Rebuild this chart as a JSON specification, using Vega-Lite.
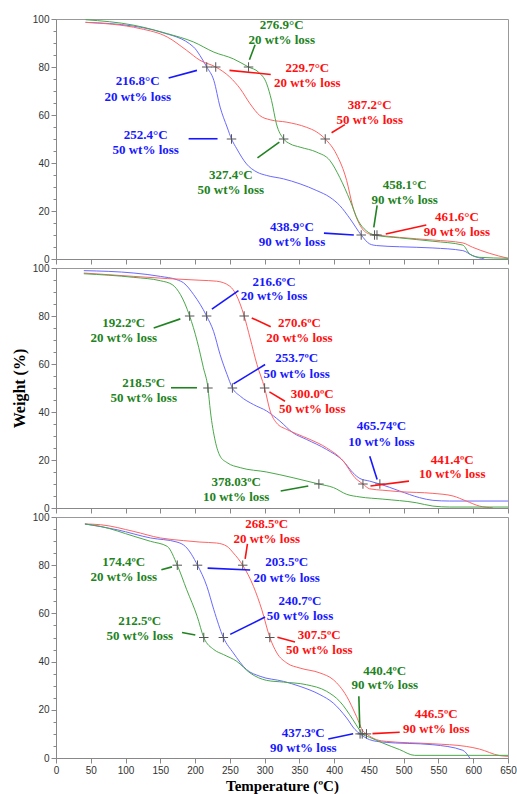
{
  "$schema": "https://vega.github.io/schema/vega-lite/v6.json",
  "padding": {"left": 10, "top": 13, "right": 2, "bottom": 1},
  "bounds": "flush",
  "spacing": 9,
  "background": "white",
  "config": {
    "view": {"stroke": "#999999", "strokeWidth": 1},
    "axis": {
      "grid": false,
      "domainColor": "#888888",
      "tickColor": "#888888",
      "labelFont": "Liberation Sans",
      "labelFontSize": 10,
      "labelColor": "#333333",
      "labelFlush": false,
      "labelOverlap": false,
      "titleFont": "Liberation Serif",
      "titleFontWeight": "bold",
      "titleFontSize": 15,
      "titleColor": "#000000"
    }
  },
  "datasets": {
    "curves": [
      {"p":1,"s":"blue","t":42.5,"w":98.6},{"p":1,"s":"blue","t":112,"w":97},{"p":1,"s":"blue","t":150,"w":94.6},{"p":1,"s":"blue","t":198,"w":88.3},{"p":1,"s":"blue","t":207,"w":84.8},{"p":1,"s":"blue","t":216.8,"w":80},{"p":1,"s":"blue","t":227,"w":74.4},{"p":1,"s":"blue","t":236,"w":63.3},{"p":1,"s":"blue","t":246,"w":55},{"p":1,"s":"blue","t":252.4,"w":50},{"p":1,"s":"blue","t":260,"w":45.9},{"p":1,"s":"blue","t":274,"w":39.6},{"p":1,"s":"blue","t":289,"w":36.2},{"p":1,"s":"blue","t":303,"w":34.8},{"p":1,"s":"blue","t":327,"w":33.4},{"p":1,"s":"blue","t":351,"w":31.3},{"p":1,"s":"blue","t":375,"w":28.5},{"p":1,"s":"blue","t":394,"w":25.7},{"p":1,"s":"blue","t":408,"w":22.3},{"p":1,"s":"blue","t":423,"w":16.7},{"p":1,"s":"blue","t":438.9,"w":10},{"p":1,"s":"blue","t":451,"w":6.3},{"p":1,"s":"blue","t":461,"w":5.6},{"p":1,"s":"blue","t":494,"w":5.1},{"p":1,"s":"blue","t":542,"w":4.6},{"p":1,"s":"blue","t":585,"w":3.5},{"p":1,"s":"blue","t":599,"w":1.4},{"p":1,"s":"blue","t":616,"w":0},
      {"p":1,"s":"red","t":42.5,"w":98.6},{"p":1,"s":"red","t":121,"w":96},{"p":1,"s":"red","t":160,"w":92.5},{"p":1,"s":"red","t":188,"w":86.9},{"p":1,"s":"red","t":207,"w":82.8},{"p":1,"s":"red","t":229.7,"w":80},{"p":1,"s":"red","t":250,"w":75.8},{"p":1,"s":"red","t":265,"w":70.9},{"p":1,"s":"red","t":279,"w":64.7},{"p":1,"s":"red","t":293,"w":59.8},{"p":1,"s":"red","t":308,"w":58},{"p":1,"s":"red","t":332,"w":57},{"p":1,"s":"red","t":360,"w":54.9},{"p":1,"s":"red","t":375,"w":52.9},{"p":1,"s":"red","t":387.2,"w":50},{"p":1,"s":"red","t":403,"w":43.8},{"p":1,"s":"red","t":418,"w":32.7},{"p":1,"s":"red","t":427,"w":21.6},{"p":1,"s":"red","t":439,"w":13.2},{"p":1,"s":"red","t":451,"w":10.4},{"p":1,"s":"red","t":461.6,"w":10},{"p":1,"s":"red","t":494,"w":9},{"p":1,"s":"red","t":542,"w":7.9},{"p":1,"s":"red","t":585,"w":6.7},{"p":1,"s":"red","t":599,"w":4.9},{"p":1,"s":"red","t":623,"w":2.4},{"p":1,"s":"red","t":650,"w":0.3},
      {"p":1,"s":"green","t":42.5,"w":99.7},{"p":1,"s":"green","t":112,"w":97.4},{"p":1,"s":"green","t":160,"w":93.9},{"p":1,"s":"green","t":198,"w":90.4},{"p":1,"s":"green","t":227,"w":86.2},{"p":1,"s":"green","t":255,"w":83.4},{"p":1,"s":"green","t":276.9,"w":80},{"p":1,"s":"green","t":291,"w":77.9},{"p":1,"s":"green","t":303,"w":73},{"p":1,"s":"green","t":310,"w":66},{"p":1,"s":"green","t":317,"w":56.3},{"p":1,"s":"green","t":327.4,"w":50},{"p":1,"s":"green","t":336.5,"w":48},{"p":1,"s":"green","t":351,"w":46.6},{"p":1,"s":"green","t":375,"w":44.5},{"p":1,"s":"green","t":394,"w":41},{"p":1,"s":"green","t":408,"w":34},{"p":1,"s":"green","t":423,"w":24.3},{"p":1,"s":"green","t":434.5,"w":16},{"p":1,"s":"green","t":446,"w":11.8},{"p":1,"s":"green","t":458.1,"w":10},{"p":1,"s":"green","t":494,"w":8.8},{"p":1,"s":"green","t":542,"w":7.4},{"p":1,"s":"green","t":585,"w":5.8},{"p":1,"s":"green","t":595,"w":2.1},{"p":1,"s":"green","t":609,"w":0.7},{"p":1,"s":"green","t":650,"w":0.3},

      {"p":2,"s":"blue","t":40,"w":98.9},{"p":2,"s":"blue","t":112,"w":97.9},{"p":2,"s":"blue","t":150,"w":96.5},{"p":2,"s":"blue","t":174,"w":95.1},{"p":2,"s":"blue","t":183.5,"w":93.8},{"p":2,"s":"blue","t":198,"w":88.9},{"p":2,"s":"blue","t":216.6,"w":80},{"p":2,"s":"blue","t":226.6,"w":73.6},{"p":2,"s":"blue","t":236,"w":63.9},{"p":2,"s":"blue","t":246,"w":55.6},{"p":2,"s":"blue","t":253.7,"w":50},{"p":2,"s":"blue","t":265,"w":46.6},{"p":2,"s":"blue","t":284,"w":43.1},{"p":2,"s":"blue","t":303,"w":40.4},{"p":2,"s":"blue","t":322,"w":36.2},{"p":2,"s":"blue","t":341,"w":31.3},{"p":2,"s":"blue","t":360,"w":28.6},{"p":2,"s":"blue","t":389,"w":24.4},{"p":2,"s":"blue","t":413,"w":19.6},{"p":2,"s":"blue","t":427,"w":14.7},{"p":2,"s":"blue","t":437,"w":12.3},{"p":2,"s":"blue","t":451,"w":11.2},{"p":2,"s":"blue","t":465.74,"w":10},{"p":2,"s":"blue","t":494,"w":7.1},{"p":2,"s":"blue","t":523,"w":4.3},{"p":2,"s":"blue","t":542,"w":3.2},{"p":2,"s":"blue","t":566,"w":2.9},{"p":2,"s":"blue","t":650,"w":2.9},
      {"p":2,"s":"red","t":40,"w":97.9},{"p":2,"s":"red","t":112,"w":96.5},{"p":2,"s":"red","t":160,"w":95.6},{"p":2,"s":"red","t":207,"w":94.9},{"p":2,"s":"red","t":231,"w":94.5},{"p":2,"s":"red","t":250,"w":92.4},{"p":2,"s":"red","t":259,"w":88.9},{"p":2,"s":"red","t":270.6,"w":80},{"p":2,"s":"red","t":279,"w":70.9},{"p":2,"s":"red","t":289,"w":59.8},{"p":2,"s":"red","t":300,"w":50},{"p":2,"s":"red","t":308,"w":40.4},{"p":2,"s":"red","t":317,"w":35.5},{"p":2,"s":"red","t":332,"w":32.7},{"p":2,"s":"red","t":346,"w":30.9},{"p":2,"s":"red","t":365,"w":28.6},{"p":2,"s":"red","t":389,"w":25.1},{"p":2,"s":"red","t":413,"w":19.6},{"p":2,"s":"red","t":430,"w":12.6},{"p":2,"s":"red","t":441.4,"w":10},{"p":2,"s":"red","t":451,"w":8},{"p":2,"s":"red","t":470,"w":7.4},{"p":2,"s":"red","t":494,"w":6.8},{"p":2,"s":"red","t":542,"w":6.1},{"p":2,"s":"red","t":571,"w":5},{"p":2,"s":"red","t":590,"w":2.9},{"p":2,"s":"red","t":609,"w":0.8},{"p":2,"s":"red","t":628,"w":0.1},
      {"p":2,"s":"green","t":40,"w":97.6},{"p":2,"s":"green","t":112,"w":96.1},{"p":2,"s":"green","t":150,"w":94.7},{"p":2,"s":"green","t":167,"w":93.1},{"p":2,"s":"green","t":179,"w":88.9},{"p":2,"s":"green","t":192.2,"w":80},{"p":2,"s":"green","t":203,"w":69.5},{"p":2,"s":"green","t":212,"w":58.4},{"p":2,"s":"green","t":218.5,"w":50},{"p":2,"s":"green","t":222,"w":40.4},{"p":2,"s":"green","t":229,"w":27.9},{"p":2,"s":"green","t":236,"w":21.6},{"p":2,"s":"green","t":246,"w":18.9},{"p":2,"s":"green","t":265,"w":16.8},{"p":2,"s":"green","t":303,"w":15},{"p":2,"s":"green","t":341,"w":12.6},{"p":2,"s":"green","t":378.03,"w":10},{"p":2,"s":"green","t":399,"w":8.5},{"p":2,"s":"green","t":418,"w":5.7},{"p":2,"s":"green","t":437,"w":4.6},{"p":2,"s":"green","t":470,"w":3.7},{"p":2,"s":"green","t":518,"w":2.2},{"p":2,"s":"green","t":542,"w":0.8},{"p":2,"s":"green","t":566,"w":0.4},{"p":2,"s":"green","t":650,"w":0.4},

      {"p":3,"s":"red","t":41.6,"w":97.1},{"p":3,"s":"red","t":64,"w":96.8},{"p":3,"s":"red","t":112,"w":94},{"p":3,"s":"red","t":150,"w":91.3},{"p":3,"s":"red","t":183.5,"w":90.2},{"p":3,"s":"red","t":207,"w":89.6},{"p":3,"s":"red","t":231,"w":89.2},{"p":3,"s":"red","t":246,"w":87.8},{"p":3,"s":"red","t":255,"w":85.1},{"p":3,"s":"red","t":268.5,"w":80},{"p":3,"s":"red","t":284,"w":71.2},{"p":3,"s":"red","t":296,"w":61.5},{"p":3,"s":"red","t":307.5,"w":50},{"p":3,"s":"red","t":317.6,"w":43.6},{"p":3,"s":"red","t":332,"w":39.4},{"p":3,"s":"red","t":351,"w":37.3},{"p":3,"s":"red","t":379.5,"w":35.3},{"p":3,"s":"red","t":398.7,"w":32.5},{"p":3,"s":"red","t":418,"w":25.6},{"p":3,"s":"red","t":432,"w":17.3},{"p":3,"s":"red","t":441.7,"w":11.1},{"p":3,"s":"red","t":446.5,"w":10},{"p":3,"s":"red","t":461,"w":7.6},{"p":3,"s":"red","t":475,"w":6.9},{"p":3,"s":"red","t":542,"w":5.9},{"p":3,"s":"red","t":590,"w":4.8},{"p":3,"s":"red","t":609,"w":3.7},{"p":3,"s":"red","t":638,"w":1},{"p":3,"s":"red","t":650,"w":0.7},
      {"p":3,"s":"blue","t":41.6,"w":97.1},{"p":3,"s":"blue","t":88,"w":94.7},{"p":3,"s":"blue","t":136,"w":91.3},{"p":3,"s":"blue","t":174,"w":89.6},{"p":3,"s":"blue","t":186,"w":87.8},{"p":3,"s":"blue","t":203.5,"w":80},{"p":3,"s":"blue","t":217,"w":71.2},{"p":3,"s":"blue","t":227,"w":61.5},{"p":3,"s":"blue","t":240.7,"w":50},{"p":3,"s":"blue","t":255,"w":43.6},{"p":3,"s":"blue","t":274,"w":36.7},{"p":3,"s":"blue","t":293.5,"w":33.9},{"p":3,"s":"blue","t":327,"w":31.8},{"p":3,"s":"blue","t":351,"w":29.7},{"p":3,"s":"blue","t":379.5,"w":26.3},{"p":3,"s":"blue","t":398.7,"w":22.8},{"p":3,"s":"blue","t":418,"w":16.6},{"p":3,"s":"blue","t":430,"w":11.8},{"p":3,"s":"blue","t":437.3,"w":10},{"p":3,"s":"blue","t":451,"w":7.6},{"p":3,"s":"blue","t":470,"w":6.6},{"p":3,"s":"blue","t":542,"w":5.5},{"p":3,"s":"blue","t":585,"w":3.2},{"p":3,"s":"blue","t":595,"w":0},
      {"p":3,"s":"green","t":41.6,"w":97.1},{"p":3,"s":"green","t":64,"w":96.1},{"p":3,"s":"green","t":112,"w":92},{"p":3,"s":"green","t":136,"w":89.9},{"p":3,"s":"green","t":160,"w":87.8},{"p":3,"s":"green","t":174.4,"w":80},{"p":3,"s":"green","t":188,"w":69.8},{"p":3,"s":"green","t":203,"w":58.8},{"p":3,"s":"green","t":212.5,"w":50},{"p":3,"s":"green","t":227,"w":45},{"p":3,"s":"green","t":241,"w":42.9},{"p":3,"s":"green","t":260,"w":40.1},{"p":3,"s":"green","t":279,"w":35.3},{"p":3,"s":"green","t":303,"w":32.2},{"p":3,"s":"green","t":327,"w":31.5},{"p":3,"s":"green","t":360.4,"w":30.4},{"p":3,"s":"green","t":389,"w":27.7},{"p":3,"s":"green","t":408,"w":23.5},{"p":3,"s":"green","t":427,"w":15.9},{"p":3,"s":"green","t":436,"w":11.8},{"p":3,"s":"green","t":440.4,"w":10},{"p":3,"s":"green","t":451,"w":8.6},{"p":3,"s":"green","t":470,"w":6.2},{"p":3,"s":"green","t":494,"w":3.5},{"p":3,"s":"green","t":515.8,"w":1.1},{"p":3,"s":"green","t":650,"w":1.1}
    ],
    "marks": [
      {"p":1,"t":216.8,"w":80},{"p":1,"t":229.7,"w":80},{"p":1,"t":276.9,"w":80},{"p":1,"t":252.4,"w":50},{"p":1,"t":327.4,"w":50},{"p":1,"t":387.2,"w":50},{"p":1,"t":438.9,"w":10},{"p":1,"t":458.1,"w":10},{"p":1,"t":461.6,"w":10},
      {"p":2,"t":192.2,"w":80},{"p":2,"t":216.6,"w":80},{"p":2,"t":270.6,"w":80},{"p":2,"t":218.5,"w":50},{"p":2,"t":253.7,"w":50},{"p":2,"t":300,"w":50},{"p":2,"t":378.03,"w":10},{"p":2,"t":441.4,"w":10},{"p":2,"t":465.74,"w":10},
      {"p":3,"t":174.4,"w":80},{"p":3,"t":203.5,"w":80},{"p":3,"t":268.5,"w":80},{"p":3,"t":212.5,"w":50},{"p":3,"t":240.7,"w":50},{"p":3,"t":307.5,"w":50},{"p":3,"t":437.3,"w":10},{"p":3,"t":440.4,"w":10},{"p":3,"t":446.5,"w":10}
    ],
    "leaders": [
      {"p":1,"s":"green","t":286.3,"w":89.3,"t2":278.2,"w2":83.0},
      {"p":1,"s":"red","t":308.8,"w":76.9,"t2":249.5,"w2":78.6},
      {"p":1,"s":"blue","t":162,"w":75.4,"t2":202.7,"w2":78.6},
      {"p":1,"s":"red","t":415.4,"w":56,"t2":396.3,"w2":52.6},
      {"p":1,"s":"blue","t":190.7,"w":50.1,"t2":232.3,"w2":50.1},
      {"p":1,"s":"green","t":289.7,"w":42.1,"t2":321.2,"w2":48.7},
      {"p":1,"s":"green","t":461.8,"w":22.3,"t2":457,"w2":13.2},
      {"p":1,"s":"blue","t":385.3,"w":10.8,"t2":428.3,"w2":10},
      {"p":1,"s":"red","t":532.5,"w":14.2,"t2":474.2,"w2":10.4},
      {"p":2,"s":"blue","t":262.4,"w":90.6,"t2":224.2,"w2":82.9},
      {"p":2,"s":"green","t":140.5,"w":75,"t2":178.8,"w2":78.8},
      {"p":2,"s":"red","t":308.8,"w":75.5,"t2":281.5,"w2":79.2},
      {"p":2,"s":"blue","t":300.7,"w":59.8,"t2":255.3,"w2":51.7},
      {"p":2,"s":"green","t":165.4,"w":50.1,"t2":202.7,"w2":50.1},
      {"p":2,"s":"red","t":329.3,"w":44.5,"t2":306.9,"w2":48.4},
      {"p":2,"s":"blue","t":451.2,"w":21.6,"t2":461.8,"w2":11.9},
      {"p":2,"s":"red","t":507.6,"w":11.2,"t2":452.2,"w2":9.2},
      {"p":2,"s":"green","t":323.1,"w":7.1,"t2":362.8,"w2":9.2},
      {"p":3,"s":"red","t":275.3,"w":88.8,"t2":272,"w2":82.6},
      {"p":3,"s":"green","t":151.5,"w":78.1,"t2":166.8,"w2":79.3},
      {"p":3,"s":"blue","t":279.2,"w":78,"t2":218,"w2":78.8},
      {"p":3,"s":"blue","t":300.7,"w":58.5,"t2":250.5,"w2":51.3},
      {"p":3,"s":"green","t":181.2,"w":52.1,"t2":200.3,"w2":51},
      {"p":3,"s":"red","t":343.7,"w":48.1,"t2":318.4,"w2":50.1},
      {"p":3,"s":"green","t":435.5,"w":25.6,"t2":436.9,"w2":12.4},
      {"p":3,"s":"red","t":494.3,"w":10.7,"t2":455.1,"w2":10.1},
      {"p":3,"s":"blue","t":391.5,"w":7.9,"t2":427.3,"w2":10.1}
    ],
    "labels": [
      {"p":1,"s":"green","t":324.6,"w":97.4,"txt":"276.9°C"},{"p":1,"s":"green","t":324.6,"w":91.1,"txt":"20 wt% loss"},
      {"p":1,"s":"red","t":361.4,"w":79.6,"txt":"229.7°C"},{"p":1,"s":"red","t":361.4,"w":73.4,"txt":"20 wt% loss"},
      {"p":1,"s":"blue","t":117.6,"w":74,"txt":"216.8°C"},{"p":1,"s":"blue","t":117.6,"w":67.7,"txt":"20 wt% loss"},
      {"p":1,"s":"red","t":451.2,"w":64,"txt":"387.2°C"},{"p":1,"s":"red","t":451.2,"w":58,"txt":"50 wt% loss"},
      {"p":1,"s":"blue","t":129,"w":51.5,"txt":"252.4°C"},{"p":1,"s":"blue","t":129,"w":45.5,"txt":"50 wt% loss"},
      {"p":1,"s":"green","t":251.4,"w":35.2,"txt":"327.4°C"},{"p":1,"s":"green","t":251.4,"w":28.9,"txt":"50 wt% loss"},
      {"p":1,"s":"green","t":501.4,"w":30.9,"txt":"458.1°C"},{"p":1,"s":"green","t":501.4,"w":24.6,"txt":"90 wt% loss"},
      {"p":1,"s":"blue","t":339.4,"w":13.2,"txt":"438.9°C"},{"p":1,"s":"blue","t":339.4,"w":7,"txt":"90 wt% loss"},
      {"p":1,"s":"red","t":576.5,"w":17.4,"txt":"461.6°C"},{"p":1,"s":"red","t":576.5,"w":11.3,"txt":"90 wt% loss"},
      {"p":2,"s":"blue","t":313.6,"w":94.2,"txt":"216.6ºC"},{"p":2,"s":"blue","t":313.6,"w":88.2,"txt":"20 wt% loss"},
      {"p":2,"s":"green","t":97.5,"w":77.1,"txt":"192.2ºC"},{"p":2,"s":"green","t":97.5,"w":70.9,"txt":"20 wt% loss"},
      {"p":2,"s":"red","t":350,"w":77.1,"txt":"270.6ºC"},{"p":2,"s":"red","t":350,"w":70.9,"txt":"20 wt% loss"},
      {"p":2,"s":"blue","t":346,"w":62.3,"txt":"253.7ºC"},{"p":2,"s":"blue","t":346,"w":56,"txt":"50 wt% loss"},
      {"p":2,"s":"green","t":126.2,"w":52.1,"txt":"218.5ºC"},{"p":2,"s":"green","t":126.2,"w":45.9,"txt":"50 wt% loss"},
      {"p":2,"s":"red","t":368.5,"w":47.3,"txt":"300.0ºC"},{"p":2,"s":"red","t":368.5,"w":41.1,"txt":"50 wt% loss"},
      {"p":2,"s":"blue","t":468,"w":34.1,"txt":"465.74ºC"},{"p":2,"s":"blue","t":468,"w":27.5,"txt":"10 wt% loss"},
      {"p":2,"s":"red","t":569.8,"w":20.2,"txt":"441.4ºC"},{"p":2,"s":"red","t":569.8,"w":14,"txt":"10 wt% loss"},
      {"p":2,"s":"green","t":259.1,"w":10.8,"txt":"378.03ºC"},{"p":2,"s":"green","t":259.1,"w":4.6,"txt":"10 wt% loss"},
      {"p":3,"s":"red","t":303.1,"w":97.2,"txt":"268.5ºC"},{"p":3,"s":"red","t":303.1,"w":90.9,"txt":"20 wt% loss"},
      {"p":3,"s":"green","t":97.5,"w":81.3,"txt":"174.4ºC"},{"p":3,"s":"green","t":97.5,"w":75.1,"txt":"20 wt% loss"},
      {"p":3,"s":"blue","t":331.7,"w":81.2,"txt":"203.5ºC"},{"p":3,"s":"blue","t":331.7,"w":74.8,"txt":"20 wt% loss"},
      {"p":3,"s":"blue","t":350.9,"w":65.3,"txt":"240.7ºC"},{"p":3,"s":"blue","t":350.9,"w":58.8,"txt":"50 wt% loss"},
      {"p":3,"s":"green","t":120.5,"w":56.7,"txt":"212.5ºC"},{"p":3,"s":"green","t":120.5,"w":50.5,"txt":"50 wt% loss"},
      {"p":3,"s":"red","t":378.6,"w":50.9,"txt":"307.5ºC"},{"p":3,"s":"red","t":378.6,"w":44.7,"txt":"50 wt% loss"},
      {"p":3,"s":"green","t":472.8,"w":36.2,"txt":"440.4ºC"},{"p":3,"s":"green","t":472.8,"w":30.4,"txt":"90 wt% loss"},
      {"p":3,"s":"red","t":546.8,"w":18.4,"txt":"446.5ºC"},{"p":3,"s":"red","t":546.8,"w":12.2,"txt":"90 wt% loss"},
      {"p":3,"s":"blue","t":355.6,"w":10.4,"txt":"437.3ºC"},{"p":3,"s":"blue","t":355.6,"w":4.1,"txt":"90 wt% loss"}
    ]
  },
  "vconcat": [
    {
      "width": 452, "height": 240,
      "encoding": {
        "x": {"field": "t", "type": "quantitative", "scale": {"domain": [0, 650], "nice": false, "zero": false},
              "axis": {"values": [0,50,100,150,200,250,300,350,400,450,500,550,600,650], "labels": false, "title": null, "tickSize": 5}},
        "y": {"field": "w", "type": "quantitative", "scale": {"domain": [0, 100], "nice": false},
              "axis": {"values": [0,5,10,15,20,25,30,35,40,45,50,55,60,65,70,75,80,85,90,95,100], "labelExpr": "datum.value % 20 === 0 ? datum.label : ''", "tickSize": {"condition": {"test": "datum.value % 20 === 0", "value": 5}, "value": 3}, "labelPadding": 2, "title": null}}
      },
      "layer": [
        {"data": {"name": "curves"}, "transform": [{"filter": "datum.p == 1"}],
         "mark": {"type": "line", "strokeWidth": 1, "interpolate": "monotone", "clip": true},
         "encoding": {"stroke": {"field": "s", "type": "nominal", "scale": {"domain": ["red", "green", "blue"], "range": ["#ff6464", "#4aa84a", "#6a6aff"]}, "legend": null}}},
        {"data": {"name": "marks"}, "transform": [{"filter": "datum.p == 1"}],
         "mark": {"type": "point", "shape": "M-1,0L1,0M0,-1L0,1", "size": 90, "filled": false, "stroke": "#555555", "strokeWidth": 1, "opacity": 1}},
        {"data": {"name": "leaders"}, "transform": [{"filter": "datum.p == 1"}],
         "mark": {"type": "rule", "strokeWidth": 1.6},
         "encoding": {"x2": {"field": "t2"}, "y2": {"field": "w2"}, "color": {"field": "s", "type": "nominal", "scale": {"domain": ["red", "green", "blue"], "range": ["#ff1010", "#218221", "#1818ff"]}, "legend": null}}},
        {"data": {"name": "labels"}, "transform": [{"filter": "datum.p == 1"}],
         "mark": {"type": "text", "font": "Liberation Serif", "fontWeight": "bold", "fontSize": 13, "baseline": "middle", "align": "center"},
         "encoding": {"text": {"field": "txt"}, "color": {"field": "s", "type": "nominal", "scale": {"domain": ["red", "green", "blue"], "range": ["#ff1010", "#218221", "#1818ff"]}, "legend": null}}}
      ]
    },
    {
      "width": 452, "height": 240,
      "encoding": {
        "x": {"field": "t", "type": "quantitative", "scale": {"domain": [0, 650], "nice": false, "zero": false},
              "axis": {"values": [0,50,100,150,200,250,300,350,400,450,500,550,600,650], "labels": false, "title": null, "tickSize": 5}},
        "y": {"field": "w", "type": "quantitative", "scale": {"domain": [0, 100], "nice": false},
              "axis": {"values": [0,5,10,15,20,25,30,35,40,45,50,55,60,65,70,75,80,85,90,95,100], "labelExpr": "datum.value % 20 === 0 ? datum.label : ''", "tickSize": {"condition": {"test": "datum.value % 20 === 0", "value": 5}, "value": 3}, "labelPadding": 2, "title": "Weight (%)", "titleFontSize": 16, "titlePadding": 5}}
      },
      "layer": [
        {"data": {"name": "curves"}, "transform": [{"filter": "datum.p == 2"}],
         "mark": {"type": "line", "strokeWidth": 1, "interpolate": "monotone", "clip": true},
         "encoding": {"stroke": {"field": "s", "type": "nominal", "scale": {"domain": ["red", "green", "blue"], "range": ["#ff6464", "#4aa84a", "#6a6aff"]}, "legend": null}}},
        {"data": {"name": "marks"}, "transform": [{"filter": "datum.p == 2"}],
         "mark": {"type": "point", "shape": "M-1,0L1,0M0,-1L0,1", "size": 90, "filled": false, "stroke": "#555555", "strokeWidth": 1, "opacity": 1}},
        {"data": {"name": "leaders"}, "transform": [{"filter": "datum.p == 2"}],
         "mark": {"type": "rule", "strokeWidth": 1.6},
         "encoding": {"x2": {"field": "t2"}, "y2": {"field": "w2"}, "color": {"field": "s", "type": "nominal", "scale": {"domain": ["red", "green", "blue"], "range": ["#ff1010", "#218221", "#1818ff"]}, "legend": null}}},
        {"data": {"name": "labels"}, "transform": [{"filter": "datum.p == 2"}],
         "mark": {"type": "text", "font": "Liberation Serif", "fontWeight": "bold", "fontSize": 13, "baseline": "middle", "align": "center"},
         "encoding": {"text": {"field": "txt"}, "color": {"field": "s", "type": "nominal", "scale": {"domain": ["red", "green", "blue"], "range": ["#ff1010", "#218221", "#1818ff"]}, "legend": null}}}
      ]
    },
    {
      "width": 452, "height": 241,
      "encoding": {
        "x": {"field": "t", "type": "quantitative", "scale": {"domain": [0, 650], "nice": false, "zero": false},
              "axis": {"values": [0,50,100,150,200,250,300,350,400,450,500,550,600,650], "title": "Temperature (ºC)", "tickSize": 5, "labelPadding": 2, "titlePadding": 3}},
        "y": {"field": "w", "type": "quantitative", "scale": {"domain": [0, 100], "nice": false},
              "axis": {"values": [0,5,10,15,20,25,30,35,40,45,50,55,60,65,70,75,80,85,90,95,100], "labelExpr": "datum.value % 20 === 0 ? datum.label : ''", "tickSize": {"condition": {"test": "datum.value % 20 === 0", "value": 5}, "value": 3}, "labelPadding": 2, "title": null}}
      },
      "layer": [
        {"data": {"name": "curves"}, "transform": [{"filter": "datum.p == 3"}],
         "mark": {"type": "line", "strokeWidth": 1, "interpolate": "monotone", "clip": true},
         "encoding": {"stroke": {"field": "s", "type": "nominal", "scale": {"domain": ["red", "green", "blue"], "range": ["#ff6464", "#4aa84a", "#6a6aff"]}, "legend": null}}},
        {"data": {"name": "marks"}, "transform": [{"filter": "datum.p == 3"}],
         "mark": {"type": "point", "shape": "M-1,0L1,0M0,-1L0,1", "size": 90, "filled": false, "stroke": "#555555", "strokeWidth": 1, "opacity": 1}},
        {"data": {"name": "leaders"}, "transform": [{"filter": "datum.p == 3"}],
         "mark": {"type": "rule", "strokeWidth": 1.6},
         "encoding": {"x2": {"field": "t2"}, "y2": {"field": "w2"}, "color": {"field": "s", "type": "nominal", "scale": {"domain": ["red", "green", "blue"], "range": ["#ff1010", "#218221", "#1818ff"]}, "legend": null}}},
        {"data": {"name": "labels"}, "transform": [{"filter": "datum.p == 3"}],
         "mark": {"type": "text", "font": "Liberation Serif", "fontWeight": "bold", "fontSize": 13, "baseline": "middle", "align": "center"},
         "encoding": {"text": {"field": "txt"}, "color": {"field": "s", "type": "nominal", "scale": {"domain": ["red", "green", "blue"], "range": ["#ff1010", "#218221", "#1818ff"]}, "legend": null}}}
      ]
    }
  ]
}
